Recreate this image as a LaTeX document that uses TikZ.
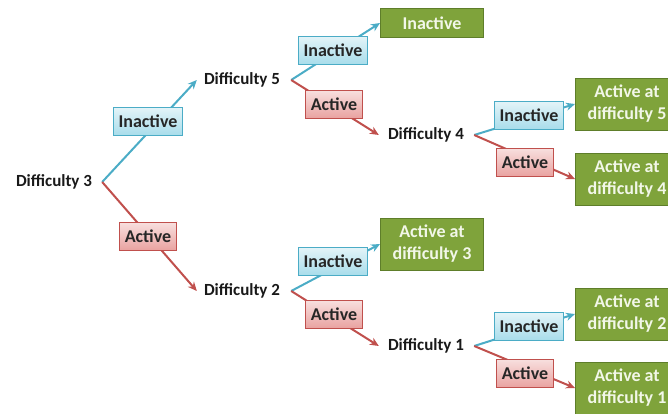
\documentclass[tikz,border=0pt]{standalone}
\usepackage{fontspec}
\setmainfont{Carlito}
\usetikzlibrary{arrows.meta,backgrounds}
\definecolor{bline}{HTML}{4BACC6}
\definecolor{rline}{HTML}{C0504D}
\definecolor{bfillT}{HTML}{E4F4F8}
\definecolor{bfillB}{HTML}{A9DDEB}
\definecolor{rfillT}{HTML}{F8E0DF}
\definecolor{rfillB}{HTML}{E9A3A1}
\definecolor{gfill}{HTML}{7FA33B}
\definecolor{gdraw}{HTML}{5E7E2A}
\definecolor{gtext}{HTML}{F2F7E8}
\tikzset{
  diff/.style={font=\fontsize{17}{19}\selectfont\bfseries, inner sep=3pt, text=black!90},
  bluebox/.style={draw=bline, line width=0.9pt, top color=bfillT, bottom color=bfillB,
    font=\fontsize{18}{20}\selectfont\bfseries, minimum height=28pt, inner xsep=5pt, inner ysep=2pt, text=black!85},
  redbox/.style={draw=rline, line width=0.9pt, top color=rfillT, bottom color=rfillB,
    font=\fontsize{18}{20}\selectfont\bfseries, minimum height=28pt, inner xsep=5pt, inner ysep=2pt, text=black!85},
  greenbox/.style={draw=gdraw, line width=1pt, fill=gfill, text=gtext,
    font=\fontsize{18}{22}\selectfont\bfseries, align=center, minimum width=103pt, inner ysep=2pt},
  bconn/.style={draw=bline, line width=2pt, -{Stealth[length=9pt,width=8pt]}},
  rconn/.style={draw=rline, line width=2pt, -{Stealth[length=9pt,width=8pt]}},
}
\begin{document}
\begin{tikzpicture}[x=1pt,y=-1pt]
\useasboundingbox (0,0) rectangle (668,413);
% difficulty nodes
\node[diff] (d3) at (54,182) {Difficulty 3};
\node[diff] (d5) at (242,80) {Difficulty 5};
\node[diff] (d4) at (426,135) {Difficulty 4};
\node[diff] (d2) at (242,291) {Difficulty 2};
\node[diff] (d1) at (426,346) {Difficulty 1};
% outcome nodes
\node[greenbox, minimum height=29pt] (g0) at (432,23) {Inactive};
\node[greenbox, minimum height=52pt, anchor=west] (g5) at (575,104) {Active at\\difficulty 5};
\node[greenbox, minimum height=52pt, anchor=west] (g4) at (575,179) {Active at\\difficulty 4};
\node[greenbox, minimum height=52pt] (g3) at (432,244) {Active at\\difficulty 3};
\node[greenbox, minimum height=52pt, anchor=west] (g2) at (575,314) {Active at\\difficulty 2};
\node[greenbox, minimum height=52pt, anchor=west] (g1) at (575,388) {Active at\\difficulty 1};
% labels
\node[bluebox] (b1) at (148,121) {Inactive};
\node[redbox] (r1) at (148,236) {Active};
\node[bluebox] (b2) at (333,50) {Inactive};
\node[redbox] (r2) at (334,104) {Active};
\node[bluebox] (b3) at (529,115) {Inactive};
\node[redbox] (r3) at (525,162) {Active};
\node[bluebox] (b4) at (333,261) {Inactive};
\node[redbox] (r4) at (334,314) {Active};
\node[bluebox] (b5) at (529,326) {Inactive};
\node[redbox] (r5) at (525,373) {Active};
% connectors
\begin{scope}[on background layer]
\draw[bconn] ([xshift=7pt]d3.east) -- ([xshift=-4pt]d5.west);
\draw[rconn] ([xshift=7pt]d3.east) -- ([xshift=-4pt]d2.west);
\draw[bconn] ([xshift=8pt]d5.east) -- (g0.west);
\draw[rconn] ([xshift=8pt]d5.east) -- ([xshift=-6pt]d4.west);
\draw[bconn] ([xshift=7pt]d4.east) -- (g5.west);
\draw[rconn] ([xshift=7pt]d4.east) -- (g4.west);
\draw[bconn] ([xshift=8pt]d2.east) -- (g3.west);
\draw[rconn] ([xshift=8pt]d2.east) -- ([xshift=-6pt]d1.west);
\draw[bconn] ([xshift=7pt]d1.east) -- (g2.west);
\draw[rconn] ([xshift=7pt]d1.east) -- (g1.west);
\end{scope}
\end{tikzpicture}
\end{document}
